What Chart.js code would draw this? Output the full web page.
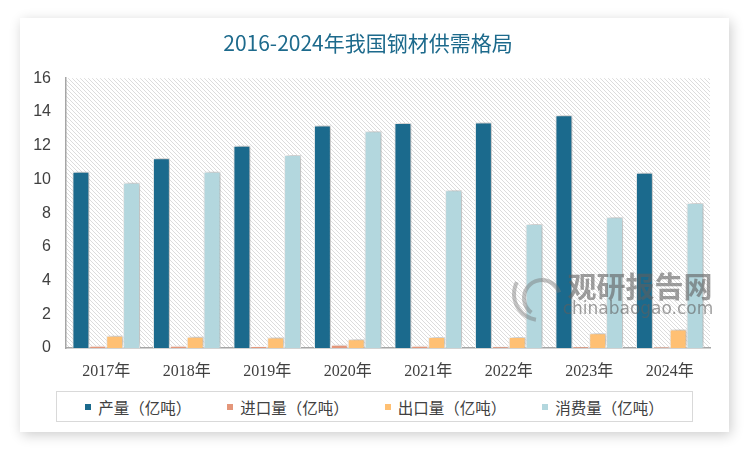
<!DOCTYPE html>
<html>
<head>
<meta charset="utf-8">
<script src="https://cdn.jsdelivr.net/npm/chart.js@4.4.1/dist/chart.umd.min.js"></script>
<style>
    html, body { margin: 0; padding: 0; background: #ffffff; }
    body { width: 750px; height: 450px; position: relative; overflow: hidden; }
    .card {
        position: absolute; left: 20px; top: 18px; width: 709px; height: 414px;
        background: #fff; box-shadow: 2px 3px 12px rgba(0,0,0,0.2);
    }
    canvas { display: block; }
    .legend {
        position: absolute; left: 36px; top: 373px; width: 635px; height: 29px;
        border: 1px solid #d9d9d9; display: flex; justify-content: center; align-items: center;
        font-family: "Noto Sans CJK SC"; font-size: 15.5px; color: #404040;
    }
    .legend span.item { display: flex; align-items: center; margin: 0 18px; }
    .legend i { display: inline-block; width: 6px; height: 6px; margin-right: 7px; }
</style>
</head>
<body>
<div class="card">
    <canvas id="steelChart" width="709" height="370"></canvas>
    <div class="legend" id="legend"></div>
</div>
<script>
// 数据（亿吨）
const years = ['2017年', '2018年', '2019年', '2020年', '2021年', '2022年', '2023年', '2024年'];
const output = [10.45, 11.25, 12.0, 13.2, 13.35, 13.38, 13.8, 10.4];
const imports = [0.13, 0.13, 0.12, 0.2, 0.14, 0.1, 0.08, 0.07];
const exports = [0.72, 0.67, 0.62, 0.52, 0.65, 0.65, 0.88, 1.1];
const consumption = [9.8, 10.45, 11.45, 12.85, 9.35, 7.35, 7.75, 8.6];
const yTicks = [0, 2, 4, 6, 8, 10, 12, 14, 16];

const names = ['产量（亿吨）', '进口量（亿吨）', '出口量（亿吨）', '消费量（亿吨）'];
const colors = ['#1b6a8d', '#e4967a', '#ffc073', '#b3d7de'];
const series = [output, imports, exports, consumption];

// 斜线底纹
function makeHatch() {
    const c = document.createElement('canvas');
    c.width = 4; c.height = 4;
    const g = c.getContext('2d');
    g.fillStyle = '#ffffff';
    g.fillRect(0, 0, 4, 4);
    g.strokeStyle = '#dcdcdc';
    g.lineWidth = 1;
    g.beginPath();
    g.moveTo(0, 0); g.lineTo(4, 4);
    g.moveTo(-1, 3); g.lineTo(1, 5);
    g.moveTo(3, -1); g.lineTo(5, 1);
    g.stroke();
    return c;
}

const hatchBg = {
    id: 'hatchBg',
    beforeDraw(chart) {
        const { ctx, chartArea: a } = chart;
        ctx.save();
        ctx.fillStyle = ctx.createPattern(makeHatch(), 'repeat');
        ctx.fillRect(a.left, a.top, a.right - a.left, a.bottom - a.top);
        ctx.restore();
    }
};

// 柱子阴影
const barShadow = {
    id: 'barShadow',
    beforeDatasetDraw(chart) {
        const ctx = chart.ctx;
        ctx.save();
        ctx.shadowColor = 'rgba(0,0,0,0.35)';
        ctx.shadowBlur = 6;
        ctx.shadowOffsetX = 2;
        ctx.shadowOffsetY = -1;
    },
    afterDatasetDraw(chart) {
        chart.ctx.restore();
    }
};

// 水印
const watermark = {
    id: 'watermark',
    afterDraw(chart) {
        const ctx = chart.ctx;
        ctx.save();
        ctx.fillStyle = 'rgba(95,95,95,0.6)';
        ctx.textAlign = 'center';
        ctx.textBaseline = 'middle';
        ctx.font = 'bold 29px "Noto Sans CJK SC"';
        ctx.fillText('观研报告网', 620, 269);
        ctx.font = '17px "DejaVu Sans"';
        ctx.fillText('chinabaogao.com', 618, 292);
        ctx.strokeStyle = 'rgba(120,120,120,0.45)';
        ctx.lineWidth = 4;
        ctx.beginPath();
        ctx.arc(522, 280, 18, Math.PI * 0.7, Math.PI * 1.9);
        ctx.stroke();
        ctx.beginPath();
        ctx.arc(520, 276, 26, Math.PI * 0.55, Math.PI * 1.15);
        ctx.stroke();
        ctx.restore();
    }
};

// HTML 图例
const legendBox = document.getElementById('legend');
names.forEach((n, i) => {
    const item = document.createElement('span');
    item.className = 'item';
    item.innerHTML = `<i style="background:${colors[i]}"></i>${n}`;
    legendBox.appendChild(item);
});

new Chart(document.getElementById('steelChart'), {
    type: 'bar',
    data: {
        labels: years,
        datasets: series.map((d, i) => ({
            label: names[i],
            data: d,
            backgroundColor: colors[i],
            borderColor: '#ffffff',
            borderWidth: 1,
            barPercentage: 1.0,
            categoryPercentage: 0.84
        }))
    },
    options: {
        responsive: false,
        animation: false,
        layout: { padding: { left: 6, right: 19, top: 0, bottom: 0 } },
        plugins: {
            title: {
                display: true,
                text: '2016-2024年我国钢材供需格局',
                color: '#1d6a8c',
                font: { size: 21, family: '"Noto Sans CJK SC"', weight: 'normal', lineHeight: 1.2 },
                padding: { top: 12, bottom: 23 }
            },
            legend: { display: false },
            tooltip: { enabled: false }
        },
        scales: {
            x: {
                grid: { display: false, drawTicks: false },
                border: { color: '#a6a6a6', width: 1.5 },
                afterFit: (axis) => { axis.height = 40; },
                ticks: {
                    color: '#404040',
                    padding: 14,
                    font: { size: 16, family: '"Liberation Serif", "Noto Sans CJK SC"' }
                }
            },
            y: {
                min: 0,
                max: 16,
                afterBuildTicks: (axis) => { axis.ticks = yTicks.map(v => ({ value: v })); },
                afterFit: (axis) => { axis.width = 40; },
                grid: { display: false, drawTicks: false },
                border: { color: '#a6a6a6', width: 1.5 },
                ticks: {
                    color: '#404040',
                    padding: 15,
                    font: { size: 16, family: '"Liberation Sans"' }
                }
            }
        }
    },
    plugins: [hatchBg, barShadow, watermark]
});
</script>
</body>
</html>
